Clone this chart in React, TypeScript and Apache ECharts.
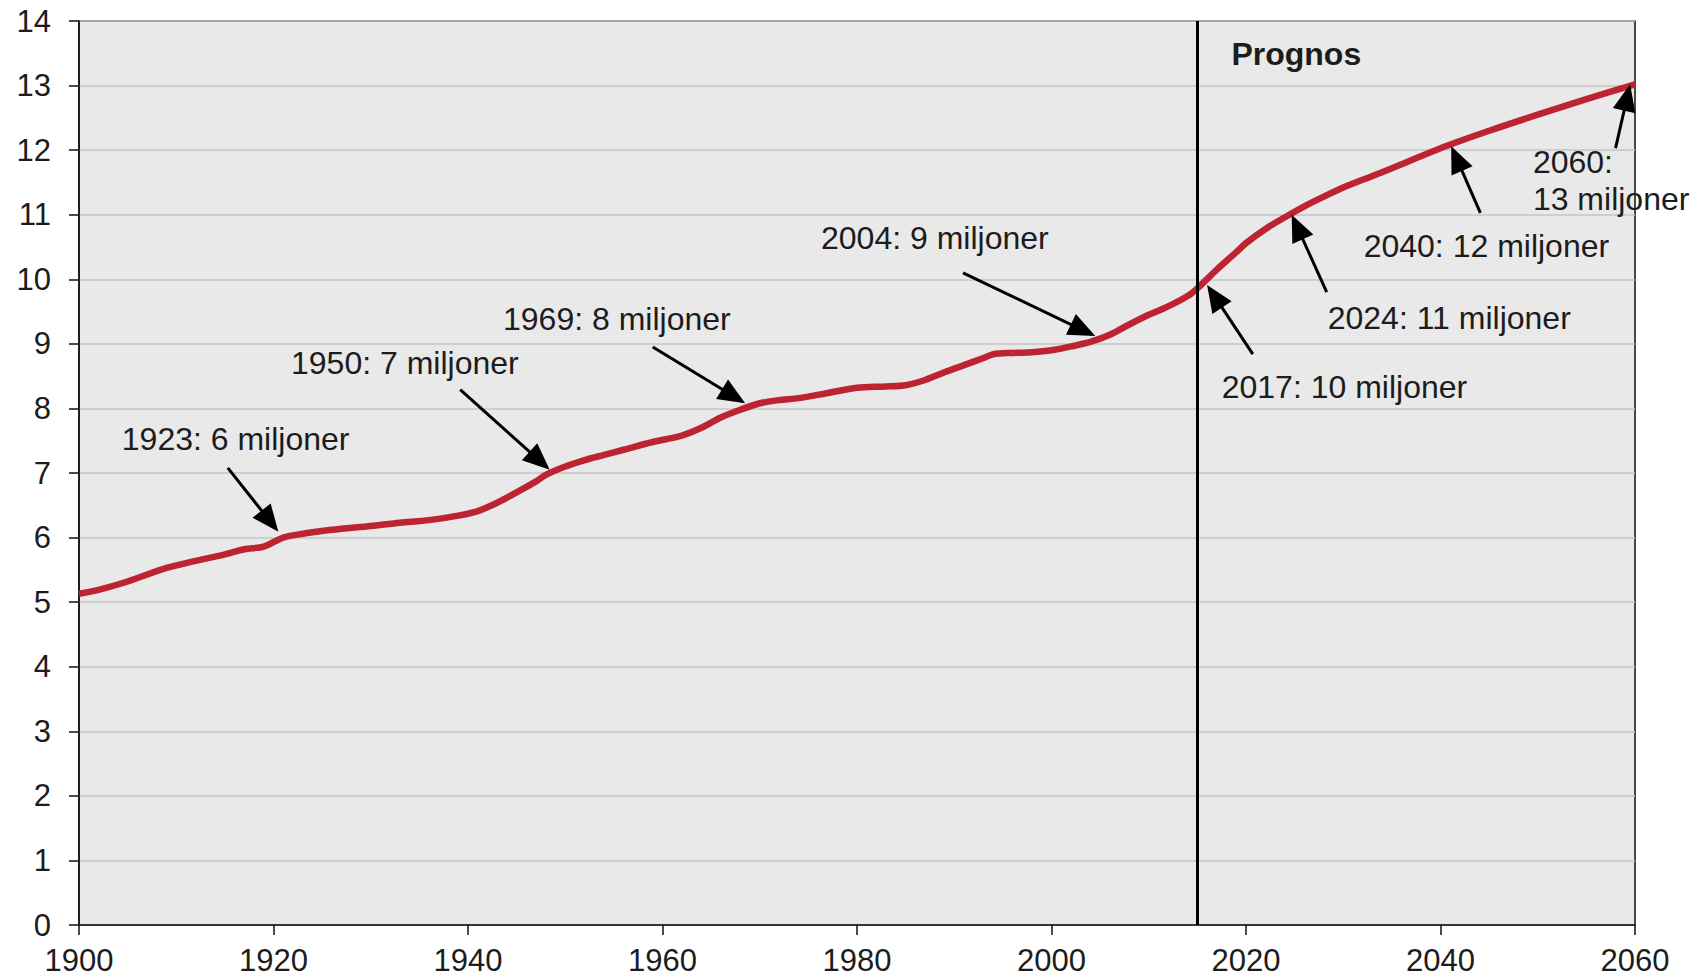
import React, { useEffect, useRef } from "react";
import * as echarts from "echarts";

// Population of Sweden (millions), history + forecast
const years = [
  1900, 1902, 1905, 1909, 1912, 1915, 1917, 1919, 1921, 1923, 1926, 1930, 1933, 1936, 1939,
  1941, 1943, 1945, 1947, 1948, 1950, 1952, 1954, 1956, 1959, 1962, 1964, 1966, 1968, 1970,
  1972, 1974, 1977, 1980, 1983, 1985, 1987, 1989, 1991, 1993, 1994, 1996, 1998, 2000, 2002,
  2004, 2006, 2008, 2010, 2012, 2014, 2015, 2017, 2019, 2020, 2022, 2024, 2026, 2028, 2030,
  2033, 2036, 2040, 2045, 2050, 2055, 2060,
];
const population = [
  5.13, 5.19, 5.32, 5.53, 5.64, 5.74, 5.82, 5.86, 6.0, 6.06, 6.12, 6.18, 6.23, 6.27, 6.34,
  6.41, 6.54, 6.7, 6.87, 6.97, 7.1, 7.2, 7.28, 7.36, 7.48, 7.58, 7.7, 7.86, 7.98, 8.08,
  8.13, 8.16, 8.24, 8.32, 8.34, 8.36, 8.44, 8.56, 8.67, 8.78, 8.84, 8.86, 8.87, 8.9, 8.96,
  9.03, 9.14, 9.3, 9.45, 9.58, 9.74, 9.86, 10.15, 10.42, 10.56, 10.78, 10.96, 11.13, 11.28, 11.42,
  11.6, 11.78, 12.03, 12.3, 12.55, 12.79, 13.02,
];

const forecastStart = 2015;
const xTicks = { min: 1900, max: 2060, interval: 20 };
const yTicks = { min: 0, max: 14, interval: 1 };

// Annotation labels (text, anchor year, anchor value; text left-aligned, vertically centred)
const labelTexts = [
  "1923: 6 miljoner",
  "1950: 7 miljoner",
  "1969: 8 miljoner",
  "2004: 9 miljoner",
  "2017: 10 miljoner",
  "2024: 11 miljoner",
  "2040: 12 miljoner",
  "2060:",
  "13 miljoner",
];
const labelYears = [1904.4, 1921.8, 1943.6, 1976.3, 2017.5, 2028.4, 2032.1, 2049.5, 2049.5];
const labelValues = [7.53, 8.7, 9.39, 10.64, 8.33, 9.4, 10.52, 11.82, 11.24];

const prognosText = "Prognos";
const prognosYear = 2018.5;
const prognosValue = 13.49;

// Arrows: from (year, value) to tip (year, value)
const arrowFromYears = [1915.3, 1939.2, 1959.0, 1990.9, 2020.7, 2028.3, 2044.1, 2058.0];
const arrowFromValues = [7.08, 8.29, 8.95, 10.1, 8.84, 9.8, 11.03, 12.03];
const arrowToYears = [1920.5, 1948.4, 1968.5, 2004.5, 2016.0, 2024.7, 2041.1, 2059.5];
const arrowToValues = [6.09, 7.05, 8.08, 9.12, 9.91, 11.0, 12.06, 13.02];

const FONT = '"Liberation Sans", Arial, sans-serif';
const TEXT_COLOR = "#1c1c1c";

export default function App() {
  const ref = useRef<HTMLDivElement>(null);

  useEffect(() => {
    if (!ref.current) return;
    const chart = echarts.init(ref.current, null, { renderer: "svg" });
    const option: any = {
      animation: false,
      backgroundColor: "#ffffff",
      textStyle: { fontFamily: FONT },
      grid: {
        left: 79,
        right: 63,
        top: 21,
        bottom: 53,
        containLabel: false,
        show: true,
        backgroundColor: "#e9e9e9",
        borderColor: "#111",
        borderWidth: 1.5,
      },
      xAxis: {
        type: "value",
        min: xTicks.min,
        max: xTicks.max,
        interval: xTicks.interval,
        axisLine: { show: true, onZero: false, lineStyle: { color: "#111", width: 1.5 } },
        axisTick: { show: true, length: 10, lineStyle: { color: "#111", width: 1.5 } },
        axisLabel: {
          fontSize: 31,
          color: TEXT_COLOR,
          margin: 20,
          fontFamily: FONT,
          formatter: (v: number) => String(v),
        },
        splitLine: { show: false },
      },
      yAxis: {
        type: "value",
        min: yTicks.min,
        max: yTicks.max,
        interval: yTicks.interval,
        axisLine: { show: true, lineStyle: { color: "#111", width: 1.5 } },
        axisTick: { show: true, length: 10, lineStyle: { color: "#111", width: 1.5 } },
        axisLabel: { fontSize: 31, color: TEXT_COLOR, margin: 28, fontFamily: FONT },
        splitLine: { show: true, lineStyle: { color: "#c4c4c4", width: 1.5 } },
      },
      series: [
        {
          type: "line",
          data: years.map((y, i) => [y, population[i]]),
          showSymbol: false,
          smooth: 0.3,
          lineStyle: { color: "#bd2330", width: 6.5 },
          z: 3,
          markLine: {
            silent: true,
            symbol: ["none", "none"],
            label: { show: false },
            lineStyle: { color: "#000", width: 3, type: "solid" },
            data: [{ xAxis: forecastStart }],
          },
        },
      ],
    };
    chart.setOption(option);

    const px = (x: number, y: number) => chart.convertToPixel({ gridIndex: 0 }, [x, y]) as number[];
    const graphics: any[] = [];

    labelTexts.forEach((t, i) => {
      const p = px(labelYears[i], labelValues[i]);
      graphics.push({
        type: "text",
        x: p[0],
        y: p[1],
        z: 20,
        style: {
          text: t,
          fontSize: 32,
          fontFamily: FONT,
          fill: TEXT_COLOR,
          align: "left",
          verticalAlign: "middle",
        },
      });
    });

    const pp = px(prognosYear, prognosValue);
    graphics.push({
      type: "text",
      x: pp[0],
      y: pp[1],
      z: 20,
      style: {
        text: prognosText,
        fontSize: 32,
        fontWeight: "bold",
        fontFamily: FONT,
        fill: TEXT_COLOR,
        align: "left",
        verticalAlign: "middle",
      },
    });

    const headLen = 27;
    const headHalf = 11.5;
    arrowFromYears.forEach((_, i) => {
      const s = px(arrowFromYears[i], arrowFromValues[i]);
      const t = px(arrowToYears[i], arrowToValues[i]);
      const dx = t[0] - s[0];
      const dy = t[1] - s[1];
      const len = Math.sqrt(dx * dx + dy * dy);
      const ux = dx / len;
      const uy = dy / len;
      const bx = t[0] - ux * headLen;
      const by = t[1] - uy * headLen;
      const nx = -uy;
      const ny = ux;
      graphics.push({
        type: "line",
        z: 21,
        shape: { x1: s[0], y1: s[1], x2: bx + ux * 2, y2: by + uy * 2 },
        style: { stroke: "#000", lineWidth: 3 },
      });
      graphics.push({
        type: "polygon",
        z: 21,
        shape: {
          points: [
            [t[0], t[1]],
            [bx + nx * headHalf, by + ny * headHalf],
            [bx - nx * headHalf, by - ny * headHalf],
          ],
        },
        style: { fill: "#000" },
      });
    });

    chart.setOption({ graphic: graphics });

    return () => {
      chart.dispose();
    };
  }, []);

  return (
    <div
      ref={ref}
      style={{ position: "fixed", left: 0, top: 0, width: 1698, height: 978, background: "#fff" }}
    />
  );
}
